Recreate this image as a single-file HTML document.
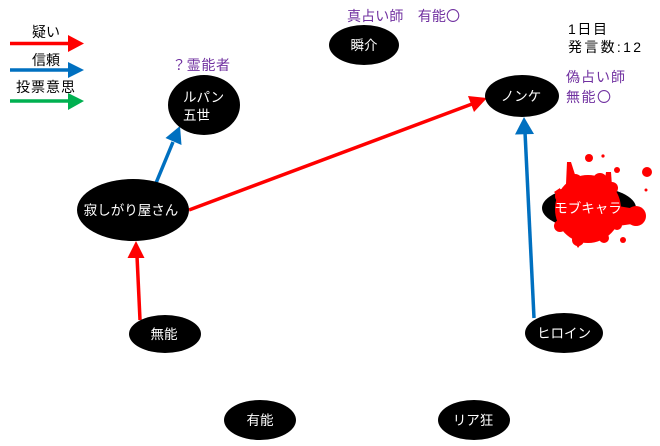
<!DOCTYPE html>
<html><head><meta charset="utf-8">
<style>
html,body{margin:0;padding:0;background:#fff;}
svg{display:block;}
text{font-family:"Liberation Sans","Noto Sans CJK JP",sans-serif;}
</style></head>
<body>
<svg width="660" height="446" viewBox="0 0 660 446" xmlns="http://www.w3.org/2000/svg">
<rect width="660" height="446" fill="#fff"/>
<!-- legend -->
<text x="32" y="37" font-size="14" fill="#000">疑い</text>
<line x1="10" y1="43.5" x2="70" y2="43.5" stroke="#ff0000" stroke-width="3.5"/>
<polygon points="84,43.5 68,35 68,52" fill="#ff0000"/>
<text x="32" y="65" font-size="14" fill="#000">信頼</text>
<line x1="10" y1="70" x2="70" y2="70" stroke="#0070c0" stroke-width="3.5"/>
<polygon points="84,70 68,62 68,78" fill="#0070c0"/>
<text x="16" y="92" font-size="14" fill="#000" textLength="59" lengthAdjust="spacing">投票意思</text>
<line x1="10" y1="101" x2="70" y2="101" stroke="#00b050" stroke-width="3.5"/>
<polygon points="84,101 68,93 68,110" fill="#00b050"/>

<!-- annotations -->
<text x="172" y="70" font-size="14" fill="#7030a0" textLength="58" lengthAdjust="spacing">？霊能者</text>
<text x="347" y="21" font-size="14" fill="#7030a0" textLength="113" lengthAdjust="spacing">真占い師　有能〇</text>
<text x="568" y="34" font-size="14" fill="#000" textLength="39" lengthAdjust="spacing">1日目</text>
<text x="568" y="52" font-size="14" fill="#000" textLength="73" lengthAdjust="spacing">発言数:12</text>
<text x="566" y="82" font-size="14" fill="#7030a0" textLength="59" lengthAdjust="spacing">偽占い師</text>
<text x="566" y="102" font-size="14" fill="#7030a0" textLength="45" lengthAdjust="spacing">無能〇</text>

<!-- arrows -->
<line x1="140" y1="320" x2="137" y2="256" stroke="#ff0000" stroke-width="3.5"/>
<polygon points="136,241 127.5,258 144.5,258" fill="#ff0000"/>
<line x1="156" y1="183" x2="173" y2="142" stroke="#0070c0" stroke-width="3.5"/>
<polygon points="180,126 181.5,145 165.5,138" fill="#0070c0"/>
<line x1="189" y1="210" x2="472" y2="104" stroke="#ff0000" stroke-width="3.5"/>
<polygon points="487,98 474,112 468,96" fill="#ff0000"/>
<line x1="534" y1="318" x2="525" y2="132" stroke="#0070c0" stroke-width="3.5"/>
<polygon points="524,117 534,134 515,134.5" fill="#0070c0"/>

<!-- nodes -->
<ellipse cx="204" cy="105" rx="36" ry="30" fill="#000"/>
<text x="183" y="102" font-size="13.5" fill="#fff">ルパン</text>
<text x="183" y="120" font-size="13.5" fill="#fff">五世</text>

<ellipse cx="364" cy="45" rx="35" ry="20" fill="#000"/>
<text x="364" y="50" font-size="13.5" fill="#fff" text-anchor="middle">瞬介</text>

<ellipse cx="522" cy="96" rx="37" ry="21" fill="#000"/>
<text x="521" y="101" font-size="13.5" fill="#fff" text-anchor="middle">ノンケ</text>

<ellipse cx="133" cy="210" rx="56" ry="31" fill="#000"/>
<text x="131" y="215" font-size="13.5" fill="#fff" text-anchor="middle">寂しがり屋さん</text>

<ellipse cx="165" cy="334" rx="36" ry="19" fill="#000"/>
<text x="164" y="339" font-size="13.5" fill="#fff" text-anchor="middle">無能</text>

<ellipse cx="564" cy="333" rx="39" ry="20" fill="#000"/>
<text x="564" y="338" font-size="13.5" fill="#fff" text-anchor="middle">ヒロイン</text>

<ellipse cx="260" cy="420" rx="36" ry="20" fill="#000"/>
<text x="260" y="425" font-size="13.5" fill="#fff" text-anchor="middle">有能</text>

<ellipse cx="474" cy="420" rx="36" ry="20" fill="#000"/>
<text x="473" y="425" font-size="13.5" fill="#fff" text-anchor="middle">リア狂</text>

<!-- mob node with splatter -->
<ellipse cx="589" cy="208" rx="47" ry="21" fill="#000"/>
<g fill="#ff0000">
  <ellipse cx="588" cy="209" rx="33" ry="34"/>
  <circle cx="575" cy="182" r="8"/>
  <circle cx="600" cy="180" r="7"/>
  <circle cx="612" cy="188" r="6"/>
  <circle cx="562" cy="196" r="7"/>
  <circle cx="560" cy="226" r="6"/>
  <circle cx="578" cy="240" r="6"/>
  <circle cx="604" cy="238" r="5"/>
  <circle cx="617" cy="225" r="5"/>
  <polygon points="567,162 571,162 578,184 566,184"/>
  <polygon points="606,172 611,172 612,186 604,186"/>
  <polygon points="573,240 578,248 584,240"/>
  <polygon points="554,192 560,188 562,200"/>
  <circle cx="636" cy="216" r="10"/>
  <polygon points="618,206 630,208 632,224 618,226"/>
  <circle cx="589" cy="158" r="4"/>
  <circle cx="603" cy="156" r="1.6"/>
  <circle cx="617" cy="170" r="3"/>
  <circle cx="647" cy="172" r="5"/>
  <circle cx="646" cy="190" r="1.5"/>
  <circle cx="623" cy="240" r="3"/>
</g>
<text x="588" y="213" font-size="13.5" fill="#fff" text-anchor="middle">モブキャラ</text>
</svg>
</body></html>
